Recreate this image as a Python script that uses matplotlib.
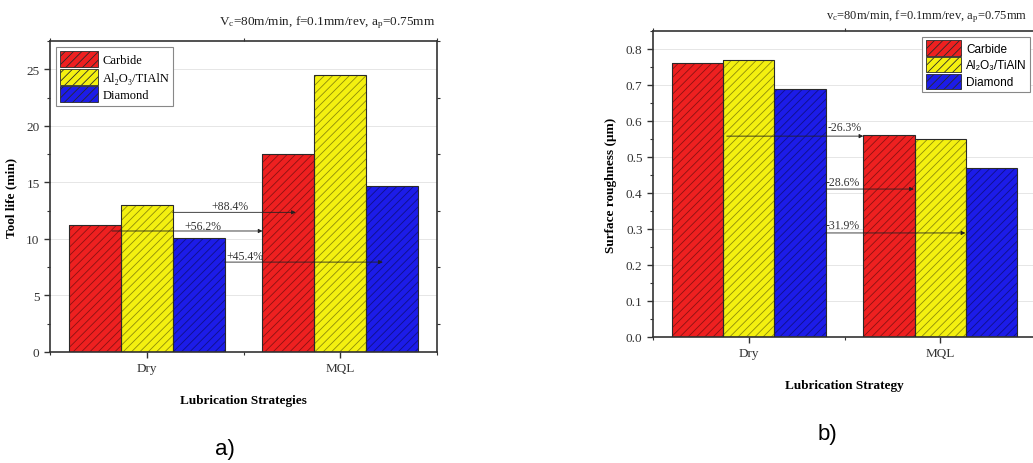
import numpy as np
import matplotlib
matplotlib.use("Agg")
import matplotlib.pyplot as plt
from matplotlib.ticker import MultipleLocator, FormatStrFormatter

plt.rcParams['font.family'] = ['Liberation Serif', 'DejaVu Serif']
plt.rcParams['mathtext.fontset'] = 'custom'
plt.rcParams['mathtext.rm'] = 'Liberation Serif'
plt.rcParams['mathtext.it'] = 'Liberation Serif:italic'
plt.rcParams['hatch.linewidth'] = 0.6

# data
strategies = ["Dry", "MQL"]
tools = ["Carbide", "Al₂O₃/TIAlN", "Diamond"]
tools_b = ["Carbide", "Al₂O₃/TiAlN", "Diamond"]
colors = ["#ee2020", "#f4f010", "#1c1ce8"]

tool_life = [[11.2, 17.5], [13.0, 24.5], [10.1, 14.7]]
roughness = [[0.76, 0.56], [0.77, 0.55], [0.69, 0.47]]

# (label, y of arrow, x start, x end, text x, text y)
life_notes = [("+88.4%", 12.35, 0.134, 0.77, 0.43, 12.9),
              ("+56.2%", 10.7, -0.18, 0.598, 0.29, 11.1),
              ("+45.4%", 7.95, 0.402, 1.22, 0.505, 8.5)]
rough_notes = [("-26.3%", 0.558, -0.115, 0.598, 0.503, 0.583),
               ("-28.6%", 0.411, 0.403, 0.862, 0.49, 0.43),
               ("-31.9%", 0.289, 0.403, 1.131, 0.49, 0.311)]

W, H = 1033, 464
fig = plt.figure(figsize=(W / 100, H / 100), dpi=100)

def px_axes(l, t, r, b):
    return fig.add_axes([l / W, (H - b) / H, (r - l) / W, (b - t) / H])

def draw(ax, values, labels, notes, ymax, major, minor, legfont, legloc):
    x = np.arange(len(strategies))
    w = 0.268
    for i, vals in enumerate(values):
        # hatched fill, then dark outline on top
        ax.bar(x + (i - 1) * w, vals, w, color=colors[i], edgecolor=(0, 0, 0, 0.42),
               linewidth=0, hatch="////", label=labels[i], zorder=2)
        ax.bar(x + (i - 1) * w, vals, w, fill=False, edgecolor="#2a2a2a",
               linewidth=0.8, zorder=3)
    ax.set_xlim(-0.5, 1.5)
    ax.set_ylim(0, ymax)
    ax.set_xticks(x)
    ax.set_xticklabels(strategies)
    ax.xaxis.set_minor_locator(MultipleLocator(0.5))
    ax.yaxis.set_major_locator(MultipleLocator(major))
    ax.yaxis.set_minor_locator(MultipleLocator(minor))
    ax.tick_params(which="both", direction="out", labelsize=9.5, colors="#333333",
                   labelcolor="#333333")
    ax.tick_params(which="major", length=4, width=1)
    ax.tick_params(which="minor", length=2.5, width=0.8)
    ax.tick_params(axis="y", which="minor", right=True)
    ax.tick_params(axis="x", which="minor", top=True)
    ax.grid(axis="y", color="#e2e2e2", linewidth=0.6, zorder=0)
    for s in ax.spines.values():
        s.set_linewidth(1.2)
        s.set_color("#333333")
    for lab, y, x0, x1, tx, ty in notes:
        ax.annotate("", xy=(x1, y), xytext=(x0, y),
                    arrowprops=dict(arrowstyle="-|>", color="#222222", lw=0.6,
                                    mutation_scale=6, shrinkA=0, shrinkB=0),
                    zorder=4)
        ax.text(tx, ty, lab, fontsize=8.5, ha="center", va="center",
                color="#333333", zorder=4)
    leg = ax.legend(loc=legloc, prop=legfont, handlelength=3.0, handleheight=1.6,
                    labelspacing=0.12, handletextpad=0.4, borderpad=0.3,
                    fancybox=False, framealpha=1, edgecolor="#888888",
                    borderaxespad=0.5)
    leg.get_frame().set_linewidth(0.8)
    for p in leg.get_patches():
        p.set_edgecolor("#2a2a2a")
        p.set_linewidth(0.6)
    return ax

# panel a
ax1 = px_axes(50, 42, 437, 353)
draw(ax1, tool_life, tools, life_notes, 27.5, 5, 2.5,
     {"family": "Liberation Serif", "size": 9}, "upper left")
ax1.set_ylabel("Tool life (min)", fontsize=9.5, fontweight="bold")
ax1.set_xlabel("Lubrication Strategies", fontsize=9.5, fontweight="bold")
ax1.yaxis.set_label_coords(-0.085, 0.5)
ax1.xaxis.set_label_coords(0.5, -0.135)
ax1.text(0.995, 1.061, r"V$_\mathrm{c}$=80m/min, f=0.1mm/rev, a$_\mathrm{p}$=0.75mm",
         transform=ax1.transAxes, ha="right", va="center", fontsize=9.5, color="#222222")

# panel b
ax2 = px_axes(653, 32, 1036, 338)
draw(ax2, roughness, tools_b, rough_notes, 0.85, 0.1, 0.05,
     {"family": "Liberation Sans", "size": 8.5}, "upper right")
ax2.yaxis.set_major_formatter(FormatStrFormatter("%.1f"))
ax2.set_ylabel("Surface roughness (μm)", fontsize=9.5, fontweight="bold")
ax2.set_xlabel("Lubrication Strategy", fontsize=9.5, fontweight="bold")
ax2.yaxis.set_label_coords(-0.094, 0.5)
ax2.xaxis.set_label_coords(0.5, -0.137)
ax2.text(0.452, 1.049, r"v$_\mathrm{c}$=80m/min, f=0.1mm/rev, a$_\mathrm{p}$=0.75mm",
         transform=ax2.transAxes, ha="left", va="center", fontsize=9, color="#222222")

fig.text(225 / W, 1 - 450 / H, "a)", fontsize=16, family="Liberation Sans",
         ha="center", va="center")
fig.text(827 / W, 1 - 435 / H, "b)", fontsize=16, family="Liberation Sans",
         ha="center", va="center")

fig.savefig("out.png", dpi=100)
